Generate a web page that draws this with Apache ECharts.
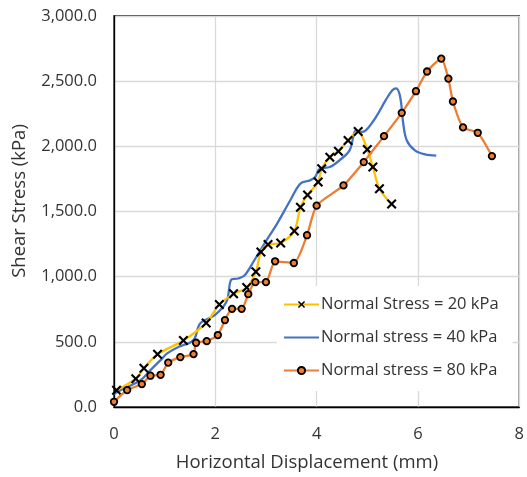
<!DOCTYPE html>
<html>
<head>
<meta charset="utf-8">
<script src="https://cdn.jsdelivr.net/npm/echarts@6/dist/echarts.min.js"></script>
<style>
  html, body { margin: 0; padding: 0; background: #fff; }
  #chart { width: 527px; height: 477px; }
</style>
</head>
<body>
<div id="chart"></div>
<script>
// Direct shear test: shear stress vs horizontal displacement

const xTicks = [0, 2, 4, 6, 8];
const yTicks = [0, 500, 1000, 1500, 2000, 2500, 3000];

// Normal stress = 20 kPa
const disp20 = [0.05, 0.43, 0.59, 0.86, 1.37, 1.82, 2.08, 2.36, 2.62, 2.80, 2.90, 3.04, 3.29, 3.56, 3.68, 3.82, 4.03, 4.10, 4.26, 4.43, 4.62, 4.82, 5.00, 5.11, 5.24, 5.48];
const shear20 = [128, 217, 298, 405, 510, 645, 787, 868, 917, 1037, 1190, 1246, 1259, 1351, 1532, 1627, 1727, 1828, 1917, 1963, 2045, 2114, 1976, 1841, 1675, 1557];

// Normal stress = 40 kPa
const disp40 = [0.00, 0.14, 0.53, 0.72, 0.92, 1.05, 1.28, 1.57, 1.70, 1.99, 2.22, 2.32, 2.45, 2.58, 2.77, 2.97, 3.22, 3.48, 3.68, 3.87, 3.97, 4.06, 4.26, 4.45, 4.65, 4.78, 4.87, 4.97, 5.17, 5.36, 5.49, 5.57, 5.65, 5.71, 5.78, 5.94, 6.14, 6.36];
const shear40 = [100, 130, 207, 283, 360, 411, 462, 513, 641, 705, 807, 980, 986, 1011, 1126, 1254, 1407, 1586, 1714, 1739, 1764, 1828, 1841, 1892, 1969, 2122, 2109, 2122, 2224, 2352, 2428, 2444, 2377, 2173, 2045, 1969, 1938, 1928];

// Normal stress = 80 kPa
const disp80 = [0.00, 0.26, 0.55, 0.72, 0.92, 1.07, 1.31, 1.57, 1.62, 1.83, 2.05, 2.19, 2.33, 2.52, 2.65, 2.79, 3.00, 3.18, 3.55, 3.81, 4.00, 4.53, 4.93, 5.33, 5.68, 5.96, 6.18, 6.46, 6.60, 6.69, 6.89, 7.18, 7.46];
const shear80 = [40, 130, 176, 240, 247, 340, 383, 406, 493, 505, 552, 667, 753, 753, 866, 958, 958, 1118, 1105, 1318, 1545, 1700, 1879, 2078, 2257, 2423, 2574, 2673, 2520, 2344, 2145, 2104, 1925];

const seriesNames = ['Normal Stress = 20 kPa', 'Normal stress = 40 kPa', 'Normal stress = 80 kPa'];

const zip = (xs, ys) => xs.map((x, i) => [x, ys[i]]);

const FONT = 'Open Sans';
const TEXT = '#333';
const crossPath = 'path://M0,1.5L1.5,0L5,3.5L8.5,0L10,1.5L6.5,5L10,8.5L8.5,10L5,6.5L1.5,10L0,8.5L3.5,5Z';

const chart = echarts.init(document.getElementById('chart'), null, { renderer: 'canvas' });

chart.setOption({
  animation: false,
  backgroundColor: '#fff',
  textStyle: { fontFamily: FONT },
  grid: {
    left: 114, right: 1, top: 16, bottom: 70,
    show: true, borderColor: '#000', borderWidth: 1.3, backgroundColor: 'transparent'
  },
  xAxis: {
    type: 'value',
    min: xTicks[0], max: xTicks[xTicks.length - 1], interval: 2,
    axisLine: { show: true, lineStyle: { color: '#000', width: 1.3 } },
    axisTick: { show: false },
    splitLine: { show: true, lineStyle: { color: '#d9d9d9', width: 1.3 } },
    axisLabel: { color: TEXT, fontSize: 16.5, fontFamily: FONT, margin: 19 }
  },
  yAxis: {
    type: 'value',
    min: yTicks[0], max: yTicks[yTicks.length - 1], interval: 500,
    axisLine: { show: true, lineStyle: { color: '#000', width: 1.3 } },
    axisTick: { show: false },
    splitLine: { show: true, lineStyle: { color: '#d9d9d9', width: 1.3 } },
    axisLabel: {
      color: TEXT, fontSize: 16.5, fontFamily: FONT, margin: 17,
      formatter: v => v.toLocaleString('en-US', { minimumFractionDigits: 1, maximumFractionDigits: 1 })
    }
  },
  legend: {
    orient: 'vertical',
    left: 277, top: 286,
    padding: [10, 14, 12, 6],
    backgroundColor: '#fff',
    itemWidth: 35, itemHeight: 9, itemGap: 16,
    textStyle: { color: TEXT, fontSize: 16.5, fontFamily: FONT, padding: [0, 0, 0, -3] },
    data: [
      { name: seriesNames[0] },
      { name: seriesNames[1], itemStyle: { opacity: 0 } },
      { name: seriesNames[2] }
    ]
  },
  graphic: [
    {
      type: 'text', x: 307, y: 463,
      style: { text: 'Horizontal Displacement (mm)', fill: TEXT, font: '18.5px "Open Sans"', align: 'center', verticalAlign: 'middle' }
    },
    {
      type: 'text', x: 20, y: 201, rotation: Math.PI / 2,
      style: { text: 'Shear Stress (kPa)', fill: TEXT, font: '18.5px "Open Sans"', align: 'center', verticalAlign: 'middle' }
    }
  ],
  series: [
    {
      name: seriesNames[0], type: 'line', smooth: 0.3,
      data: zip(disp20, shear20),
      symbol: crossPath, symbolSize: 10,
      lineStyle: { color: '#FFC000', width: 2.3 },
      itemStyle: { color: '#000' },
      z: 3
    },
    {
      name: seriesNames[1], type: 'line', smooth: 0.35,
      data: zip(disp40, shear40),
      symbol: 'none', showSymbol: false,
      lineStyle: { color: '#4472C4', width: 2.3 },
      itemStyle: { color: '#4472C4' },
      z: 2
    },
    {
      name: seriesNames[2], type: 'line', smooth: 0.2,
      data: zip(disp80, shear80),
      symbol: 'circle', symbolSize: 6.5,
      lineStyle: { color: '#ED7D31', width: 2.3 },
      itemStyle: { color: '#ED7D31', borderColor: '#000', borderWidth: 1.8 },
      z: 4
    }
  ]
});
</script>
</body>
</html>
